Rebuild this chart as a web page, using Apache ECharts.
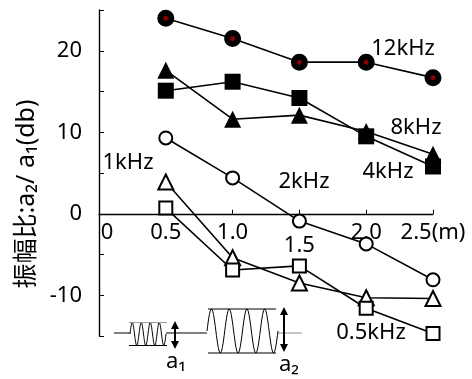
<!DOCTYPE html>
<html>
<head>
<meta charset="utf-8">
<script src="https://cdn.jsdelivr.net/npm/echarts@6/dist/echarts.min.js"></script>
<style>
html, body { margin: 0; padding: 0; background: #fff; }
#chart { width: 472px; height: 379px; }
</style>
</head>
<body>
<div id="chart"></div>
<script>
// distance (m)
var distances = [0.5, 1.0, 1.5, 2.0, 2.5];
// amplitude ratio a2/a1 (db) per frequency
var f12k = [24.0, 21.5, 18.6, 18.6, 16.7];
var f8k = [17.6, 11.6, 12.1, 10.1, 7.3];
var f4k = [15.1, 16.2, 14.2, 9.5, 5.8];
var f2k = [9.3, 4.4, -0.9, -3.7, -8.1];
var f1k = [3.9, -5.4, -8.5, -10.3, -10.4];
var f05k = [0.7, -6.9, -6.4, -11.6, -14.7];

var xTickLabels = {0: '0', 0.5: '0.5', 1: '1.0', 1.5: '1.5', 2: '2.0', 2.5: '2.5(m)'};
var yTickLabels = [-10, 0, 10, 20];

var FONT = '"Noto Sans", "Noto Sans CJK SC", sans-serif';

var Y_MIN = -15, Y_MAX = 25;
var GRID_TOP = 10, GRID_BOTTOM = 43, HEIGHT = 379;

function pairs(vals) {
	return distances.map(function(d, i) {
		return [d, vals[i]];
	});
}

function makeSeries(name, vals, symbol, size, filled, dot) {
	return {
		name : name,
		type : 'line',
		data : pairs(vals),
		symbol : symbol,
		symbolSize : size,
		showAllSymbol : true,
		lineStyle : {
			color : '#000',
			width : 1.6
		},
		itemStyle : {
			color : dot ? '#8b0000' : (filled ? '#000' : '#fff'),
			borderColor : '#000',
			borderWidth : dot ? 6 : (filled ? 0 : 2)
		},
		emphasis : {
			disabled : true
		},
		z : 3
	};
}

// little sine for the a1 / a2 sketch (decoration only)
function wave(x0, x1, yc, amp, cycles) {
	var pts = [];
	var n = 120;
	for (var i = 0; i <= n; i++) {
		var t = i / n;
		pts.push([x0 + (x1 - x0) * t, yc - amp * Math.sin(t * cycles * 2 * Math.PI)]);
	}
	return pts;
}

function hline(x0, x1, y, color) {
	return {
		type : 'line',
		shape : { x1 : x0, y1 : y, x2 : x1, y2 : y },
		style : { stroke : color || '#000', lineWidth : 1 }
	};
}

function arrow(x, y0, y1) {
	return [{
		type : 'line',
		shape : { x1 : x, y1 : y0 + 5, x2 : x, y2 : y1 - 5 },
		style : { stroke : '#000', lineWidth : 2 }
	}, {
		type : 'polygon',
		shape : { points : [[x, y0], [x - 4, y0 + 8], [x + 4, y0 + 8]] },
		style : { fill : '#000' }
	}, {
		type : 'polygon',
		shape : { points : [[x, y1], [x - 4, y1 - 8], [x + 4, y1 - 8]] },
		style : { fill : '#000' }
	}];
}

function label(text, x, y, size) {
	return {
		type : 'text',
		x : x,
		y : y,
		style : {
			text : text,
			fill : '#000',
			font : (size || 22) + 'px ' + FONT,
			textAlign : 'center',
			textVerticalAlign : 'middle'
		},
		z : 10
	};
}

var sketch = [
	hline(114, 130, 333),
	{ type : 'polyline', shape : { points : wave(130, 166, 334, 11.5, 4) }, style : { stroke : '#000', lineWidth : 1, fill : null } },
	hline(129, 167, 322.5, '#999'),
	hline(129, 167, 345.5),
	hline(166, 207, 333),
	{ type : 'polyline', shape : { points : wave(207, 278, 331, 22, 4) }, style : { stroke : '#000', lineWidth : 1, fill : null } },
	hline(208, 276, 309),
	hline(208, 276, 353),
	hline(278, 302, 333, '#888')
].concat(arrow(175, 321, 349)).concat(arrow(284, 307, 352));

var texts = [
	label('12kHz', 403, 49),
	label('8kHz', 416, 128),
	label('4kHz', 388, 172),
	label('1kHz', 128, 163),
	label('2kHz', 304, 182),
	label('0.5kHz', 371, 333),
	label('a\u2081', 176, 362),
	label('a\u2082', 289, 365),
	{
		type : 'text',
		x : 27,
		y : 194,
		rotation : Math.PI / 2,
		style : {
			text : '振幅比:a\u2082/ a\u2081(db)',
			fill : '#000',
			font : '25px ' + FONT,
			textAlign : 'center',
			textVerticalAlign : 'middle'
		}
	}
];

// distance from the bottom of the grid up to the zero line
var plotH = HEIGHT - GRID_TOP - GRID_BOTTOM;
var zeroLift = plotH * (0 - Y_MIN) / (Y_MAX - Y_MIN);

var chart = echarts.init(document.getElementById('chart'));

var option = {
	animation : false,
	backgroundColor : '#fff',
	grid : {
		left : 99,
		right : 39,
		top : GRID_TOP,
		bottom : GRID_BOTTOM
	},
	xAxis : [{
		type : 'value',
		min : 0,
		max : 2.5,
		interval : 0.5,
		axisLine : {
			onZero : true,
			lineStyle : { color : '#000', width : 1.4 }
		},
		axisTick : {
			inside : true,
			length : 4,
			lineStyle : { color : '#000', width : 1 }
		},
		splitLine : { show : false },
		axisLabel : { show : false }
	}, {
		// labels only, lifted up to the zero line
		type : 'value',
		position : 'bottom',
		offset : -zeroLift,
		min : 0,
		max : 2.5,
		interval : 0.5,
		axisLine : { show : false, onZero : false },
		axisTick : { show : false },
		splitLine : { show : false },
		axisLabel : {
			margin : 8,
			color : '#000',
			fontFamily : FONT,
			fontSize : 22,
			formatter : function(v) {
				var t = xTickLabels[v];
				if (v === 0) return '{z|' + t + '}';
				if (v === 1.5) return '{lo|' + t + '}';
				return t;
			},
			rich : {
				z : { fontSize : 22, fontFamily : FONT, color : '#000', padding : [0, 0, 0, 16] },
				lo : { fontSize : 22, fontFamily : FONT, color : '#000', padding : [13, 0, 0, 0] }
			}
		}
	}],
	yAxis : {
		type : 'value',
		min : Y_MIN,
		max : Y_MAX,
		interval : 5,
		axisLine : {
			show : true,
			lineStyle : { color : '#000', width : 1.4 }
		},
		axisTick : {
			show : true,
			inside : true,
			length : 5,
			lineStyle : { color : '#000', width : 1 }
		},
		splitLine : { show : false },
		axisLabel : {
			margin : 17,
			color : '#000',
			fontFamily : FONT,
			fontSize : 22,
			formatter : function(v) {
				return yTickLabels.indexOf(v) >= 0 ? String(v) : '';
			}
		}
	},
	series : [
		makeSeries('12kHz', f12k, 'circle', 11, true, true),
		makeSeries('8kHz', f8k, 'triangle', 17, true, false),
		makeSeries('4kHz', f4k, 'rect', 16, true, false),
		makeSeries('2kHz', f2k, 'circle', 13, false, false),
		makeSeries('1kHz', f1k, 'triangle', 15, false, false),
		makeSeries('0.5kHz', f05k, 'rect', 13, false, false)
	],
	graphic : sketch.concat(texts)
};

chart.setOption(option);
</script>
</body>
</html>
